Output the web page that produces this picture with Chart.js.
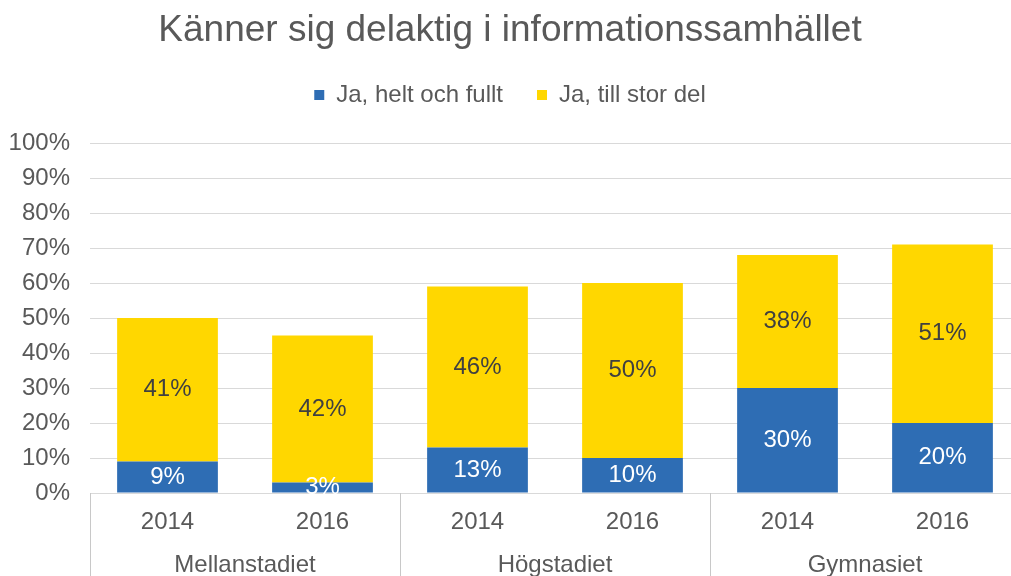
<!DOCTYPE html>
<html lang="sv">
<head>
    <meta charset="UTF-8">
    <title>Känner sig delaktig i informationssamhället</title>
    <script src="https://cdn.jsdelivr.net/npm/chart.js"></script>
    <style>
        html, body { margin: 0; padding: 0; background: #fff; overflow: hidden; }
        .chart-container {
            position: relative;
            width: 1020px;
            height: 640px;
        }
    </style>
</head>
<body>
    <div class="chart-container">
        <canvas id="delaktigChart"></canvas>
    </div>
    <script>
        const years = ['2014', '2016', '2014', '2016', '2014', '2016'];
        const groups = ['Mellanstadiet', 'Högstadiet', 'Gymnasiet'];
        const heltOchFullt = [9, 3, 13, 10, 30, 20];
        const tillStorDel = [41, 42, 46, 50, 38, 51];

        const textGray = '#595959';
        const fontFamily = '"Liberation Sans", Arial, sans-serif';

        // percent labels in the middle of each segment
        const segmentLabels = {
            id: 'segmentLabels',
            afterDatasetsDraw(chart) {
                const ctx = chart.ctx;
                ctx.save();
                ctx.font = '24px ' + fontFamily;
                ctx.textAlign = 'center';
                ctx.textBaseline = 'middle';
                chart.data.datasets.forEach((ds, i) => {
                    const meta = chart.getDatasetMeta(i);
                    ctx.fillStyle = i === 0 ? '#ffffff' : '#404040';
                    meta.data.forEach((bar, j) => {
                        ctx.fillText(ds.data[j] + '%', bar.x, (bar.y + bar.base) / 2);
                    });
                });
                ctx.restore();
            }
        };

        // vertical separators between the school levels
        const groupLines = {
            id: 'groupLines',
            afterDraw(chart) {
                const x = chart.scales.x;
                const ctx = chart.ctx;
                const top = chart.chartArea.bottom;
                ctx.save();
                ctx.strokeStyle = '#c8c8c8';
                ctx.lineWidth = 1;
                for (let i = 0; i <= years.length; i += 2) {
                    let px;
                    if (i === 0) px = x.left;
                    else if (i === years.length) px = x.right;
                    else px = (x.getPixelForValue(i - 1) + x.getPixelForValue(i)) / 2;
                    px = Math.round(px) + 0.5;
                    ctx.beginPath();
                    ctx.moveTo(px, top);
                    ctx.lineTo(px, chart.height);
                    ctx.stroke();
                }
                ctx.restore();
            }
        };

        new Chart(document.getElementById('delaktigChart').getContext('2d'), {
            type: 'bar',
            data: {
                labels: years,
                datasets: [{
                    label: 'Ja, helt och fullt',
                    data: heltOchFullt,
                    backgroundColor: '#2E6DB4'
                }, {
                    label: 'Ja, till stor del',
                    data: tillStorDel,
                    backgroundColor: '#FFD700'
                }]
            },
            options: {
                responsive: true,
                maintainAspectRatio: false,
                animation: false,
                barPercentage: 0.65,
                categoryPercentage: 1,
                layout: { padding: 0 },
                scales: {
                    x: {
                        stacked: true,
                        grid: { display: false },
                        border: { display: true, color: '#d9d9d9' },
                        ticks: { color: textGray, font: { size: 24, family: fontFamily }, padding: 7, maxRotation: 0 },
                        afterFit: scale => { scale.height = 44; }
                    },
                    x2: {
                        type: 'category',
                        labels: groups,
                        position: 'bottom',
                        weight: 1,
                        offset: true,
                        grid: { display: false },
                        border: { display: false },
                        ticks: { color: textGray, font: { size: 24, family: fontFamily }, padding: 6, maxRotation: 0 },
                        afterFit: scale => { scale.height = 103; }
                    },
                    // empty strip between legend and plot
                    gap: {
                        type: 'category',
                        labels: [''],
                        position: 'top',
                        grid: { display: false },
                        border: { display: false },
                        ticks: { display: false },
                        afterFit: scale => { scale.height = 26; }
                    },
                    y: {
                        stacked: true,
                        min: 0,
                        max: 100,
                        ticks: {
                            stepSize: 10,
                            color: textGray,
                            font: { size: 24, family: fontFamily },
                            padding: 20,
                            callback: v => v + '%'
                        },
                        grid: { color: '#d9d9d9', drawTicks: false },
                        border: { display: false },
                        afterFit: scale => { scale.width = 90; }
                    }
                },
                plugins: {
                    title: {
                        display: true,
                        text: 'Känner sig delaktig i informationssamhället',
                        color: textGray,
                        font: { size: 37, family: fontFamily, weight: 'normal', lineHeight: 1 },
                        padding: { top: 12, bottom: 0 }
                    },
                    legend: {
                        labels: {
                            color: textGray,
                            font: { size: 24, family: fontFamily },
                            boxWidth: 10,
                            boxHeight: 10,
                            padding: 34
                        }
                    },
                    tooltip: { enabled: false }
                }
            },
            plugins: [segmentLabels, groupLines]
        });
    </script>
</body>
</html>
